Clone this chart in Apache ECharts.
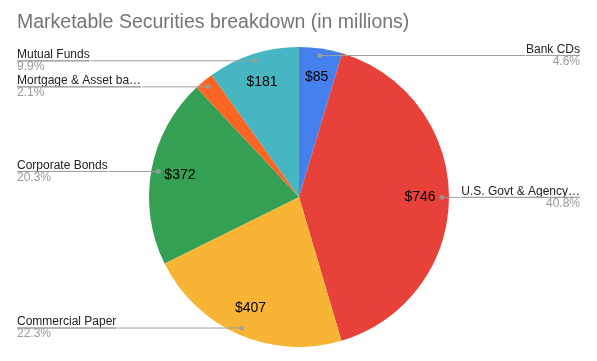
<!DOCTYPE html>
<html>
<head>
<meta charset="utf-8">
<script src="https://cdn.jsdelivr.net/npm/echarts@6/dist/echarts.min.js"></script>
<style>
html,body{margin:0;padding:0;background:#fff;}
#c{width:597px;height:361px;}
</style>
</head>
<body>
<div id="c"></div>
<script>
const categories = ['Bank CDs', 'U.S. Govt & Agency\u2026', 'Commercial Paper', 'Corporate Bonds', 'Mortgage & Asset ba\u2026', 'Mutual Funds'];
const values = [85, 746, 407, 372, 38, 181];
const colors = ['#4680EC', '#E8413A', '#F8B434', '#33A053', '#FC6523', '#46B6C3'];

const FONT = 'Arial, "Liberation Sans", Helvetica, sans-serif';
const total = values.reduce((a, b) => a + b, 0);
const pieData = categories.map((name, i) => ({ name, value: values[i], itemStyle: { color: colors[i] } }));
const plain = categories.map((name, i) => ({ name, value: values[i] }));
let cum = 0;
const dotData = values.map(v => { const a = cum + v / 2; cum += v; return [1, a]; });

const center = [299, 197];
const chart = echarts.init(document.getElementById('c'), null, { renderer: 'canvas' });
chart.setOption({
  animation: false,
  backgroundColor: '#ffffff',
  title: {
    text: 'Marketable Securities breakdown (in millions)',
    left: 17, top: 13, padding: 0,
    textStyle: { fontFamily: FONT, fontSize: 19.5, fontWeight: 'normal', color: '#757575' }
  },
  polar: { center: center, radius: 143 },
  angleAxis: { type: 'value', min: 0, max: total, startAngle: 90, clockwise: true, show: false },
  radiusAxis: { type: 'value', min: 0, max: 1, show: false },
  series: [
    {
      type: 'pie', center: center, radius: 150, z: 1,
      data: pieData, label: { show: false }, labelLine: { show: false },
      silent: true
    },
    {
      type: 'pie', center: center, radius: [0, 236], z: 3, silent: true,
      data: plain,
      itemStyle: { color: 'rgba(0,0,0,0)' },
      minShowLabelAngle: 10,
      label: {
        show: true, position: 'inside', formatter: '${c}',
        fontFamily: FONT, fontSize: 14, color: '#000000'
      },
      labelLine: { show: false }
    },
    {
      type: 'pie', center: center, radius: 143, z: 2, silent: true,
      data: plain, percentPrecision: 1,
      avoidLabelOverlap: true,
      itemStyle: { color: 'rgba(0,0,0,0)' },
      label: {
        show: true, position: 'outside', alignTo: 'edge', edgeDistance: 17,
        distanceToLabelLine: 0,
        formatter: '{n|{b}}\n{hr|}\n{p|{d}%}',
        fontFamily: FONT,
        rich: {
          n: { fontFamily: FONT, fontSize: 12, color: '#222222', lineHeight: 12 },
          hr: { borderColor: '#9e9e9e', width: '100%', borderWidth: 1, height: 0 },
          p: { fontFamily: FONT, fontSize: 12, color: '#999999', lineHeight: 12 }
        }
      },
      labelLine: { show: true, length: 0, length2: 10, lineStyle: { color: '#9e9e9e', width: 1 } }
    },
    {
      type: 'scatter', coordinateSystem: 'polar', z: 4, silent: true,
      data: dotData, symbolSize: 5,
      itemStyle: { color: '#9e9e9e' }
    }
  ]
});
</script>
</body>
</html>
